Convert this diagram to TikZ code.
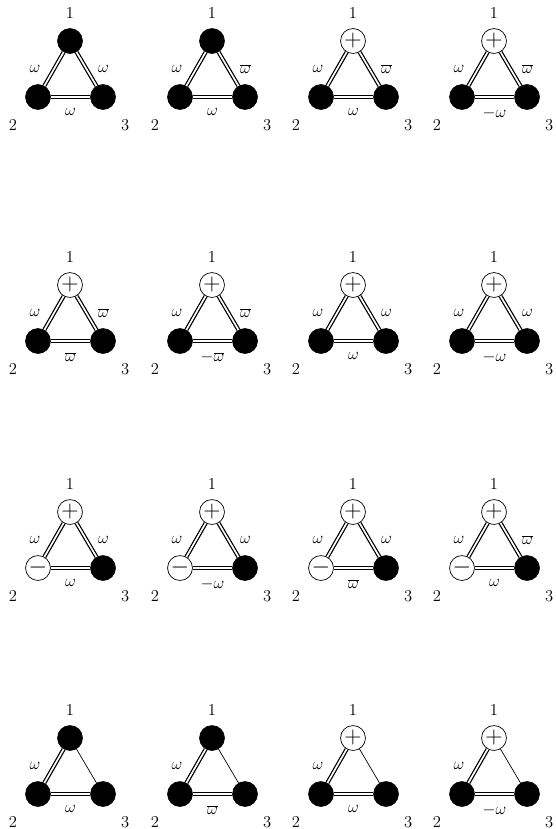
\documentclass[tikz,border=0pt]{standalone}
\usepackage{tikz}
\usetikzlibrary{positioning}
\begin{document}
\begin{tikzpicture}[
  x=0.254mm, y=-0.254mm, font=\large,
  vtx/.style={circle, draw, line width=0.5pt, minimum size=18pt, inner sep=0pt},
  blk/.style={vtx, fill=black},
  pls/.style={vtx, fill=white, label={[font=\LARGE, inner sep=0pt]center:$+$}},
  mns/.style={vtx, fill=white, label={[font=\LARGE, inner sep=0pt]center:$-$}},
  dbl/.style={draw, line width=0.9pt, double distance=1.2pt},
  sgl/.style={draw, line width=0.5pt},
  vlab/.style={inner sep=0pt},
  elab/.style={inner sep=0pt}
]
\useasboundingbox (0,0) rectangle (556,829);

\foreach \n/\x/\y/\ta/\tb/\tc/\ea/\eb/\ec in {
  1/70/41/blk/blk/blk/\omega/\omega/\omega,
  2/212/41/blk/blk/blk/\omega/\overline{\omega}/\omega,
  3/353/41/pls/blk/blk/\omega/\overline{\omega}/\omega,
  4/494/41/pls/blk/blk/\omega/\overline{\omega}/-\omega,
  5/70/285/pls/blk/blk/\omega/\overline{\omega}/\overline{\omega},
  6/212/285/pls/blk/blk/\omega/\overline{\omega}/-\overline{\omega},
  7/353/285/pls/blk/blk/\omega/\omega/\omega,
  8/494/285/pls/blk/blk/\omega/\omega/-\omega,
  9/70/512/pls/mns/blk/\omega/\omega/\omega,
  10/212/512/pls/mns/blk/\omega/\omega/-\omega,
  11/353/512/pls/mns/blk/\omega/\omega/\overline{\omega},
  12/494/512/pls/mns/blk/\omega/\overline{\omega}/\omega} {
  \node[\ta] (t\n) at (\x, \y) {};
  \node[\tb] (l\n) at (\x-32, \y+56) {};
  \node[\tc] (r\n) at (\x+33, \y+56) {};
  \draw[dbl] (l\n) -- node[elab, left=9.5pt] {$\ea$} (t\n);
  \draw[dbl] (t\n) -- node[elab, right=8pt] {$\eb$} (r\n);
  \draw[dbl] (l\n) -- node[elab, below=7.5pt] {$\ec$} (r\n);
  \node[vlab, above=6.5pt of t\n] {1};
  \node[vlab, below left=9.2pt and 8.5pt of l\n] {2};
  \node[vlab, below right=9.2pt and 6.3pt of r\n] {3};
}

\foreach \n/\x/\ta/\ec in {
  13/70/blk/\omega,
  14/212/blk/\overline{\omega},
  15/353/pls/\omega,
  16/494/pls/-\omega} {
  \node[\ta] (t\n) at (\x, 738) {};
  \node[blk] (l\n) at (\x-32, 794) {};
  \node[blk] (r\n) at (\x+33, 794) {};
  \draw[dbl] (l\n) -- node[elab, left=9.5pt] {$\omega$} (t\n);
  \draw[sgl] (t\n) -- (r\n);
  \draw[dbl] (l\n) -- node[elab, below=7.5pt] {$\ec$} (r\n);
  \node[vlab, above=6.5pt of t\n] {1};
  \node[vlab, below left=9.2pt and 8.5pt of l\n] {2};
  \node[vlab, below right=9.2pt and 6.3pt of r\n] {3};
}
\end{tikzpicture}
\end{document}
